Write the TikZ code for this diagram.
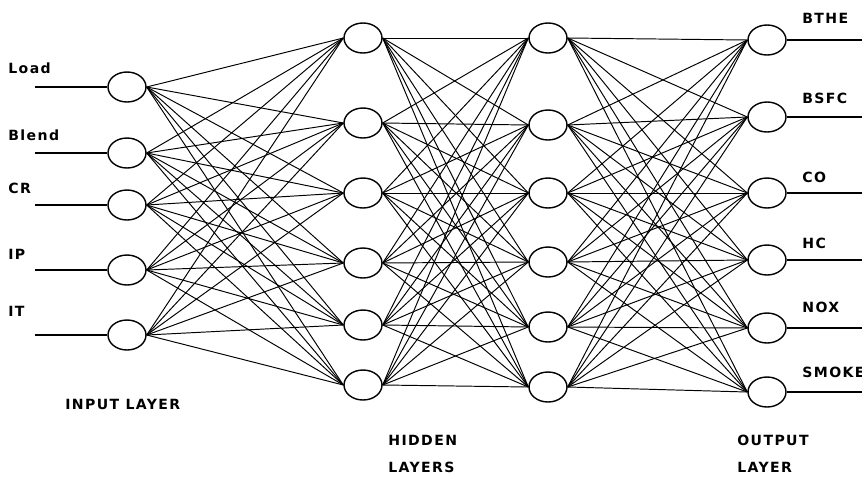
\documentclass[tikz,border=0pt]{standalone}
\usepackage{fontspec}
\setmainfont{DejaVu Sans}[LetterSpace=10]
\usetikzlibrary{shapes.geometric, positioning}

\begin{document}
\begin{tikzpicture}[x=0.02cm, y=-0.02cm,
    neuron/.style={draw, ellipse, line width=.8pt, minimum width=0.76cm, minimum height=0.6cm, inner sep=0pt, fill=white},
    link/.style={line width=.55pt},
    lbl/.style={font=\fontsize{8}{9}\selectfont\bfseries, anchor=west, inner sep=0pt}]
	\useasboundingbox (0,0) rectangle (862,477);
	% layers
	\foreach \i/\y in {1/87,2/153,3/205,4/270,5/335}
		\node[neuron] (in\i) at (127,\y) {};
	\foreach \i/\y in {1/38,2/123,3/193,4/263,5/325,6/385}
		\node[neuron] (ha\i) at (363,\y) {};
	\foreach \i/\y in {1/38,2/125,3/193,4/262,5/327,6/387}
		\node[neuron] (hb\i) at (548,\y) {};
	\foreach \i/\y in {1/40,2/117,3/193,4/260,5/328,6/392}
		\node[neuron] (out\i) at (767,\y) {};
	% connections
	\foreach \i in {1,...,5}
		\foreach \j in {1,...,6}
			\draw[link] (in\i.east) -- (ha\j.west);
	\foreach \i in {1,...,6}
		\foreach \j in {1,...,6}
			\draw[link] (ha\i.east) -- (hb\j.west);
	\foreach \i in {1,...,6}
		\foreach \j in {1,...,6}
			\draw[link] (hb\i.east) -- (out\j.west);
	% input and output lines
	\foreach \i/\y in {1/87,2/153,3/205,4/270,5/335} {
		\coordinate (src\i) at (35,\y);
		\draw[line width=.8pt] (src\i) -- (in\i.west);
	}
	\foreach \i/\y in {1/40,2/117,3/193,4/260,5/328,6/392} {
		\coordinate (dst\i) at (862,\y);
		\draw[line width=.8pt] (out\i.east) -- (dst\i);
	}
	% labels
	\node[lbl] (lload) at (8,68) {Load};
	\node[lbl] (lblend) at (8,135) {Blend};
	\node[lbl] (lcr) at (8,188) {CR};
	\node[lbl] (lip) at (8,254) {IP};
	\node[lbl] (lit) at (8,311) {IT};
	\node[lbl] (lbthe) at (802,18) {BTHE};
	\node[lbl] (lbsfc) at (802,98) {BSFC};
	\node[lbl] (lco) at (802,177) {CO};
	\node[lbl] (lhc) at (802,243) {HC};
	\node[lbl] (lnox) at (802,307) {NOX};
	\node[lbl] (lsmoke) at (802,372) {SMOKE};
	\node[lbl] (linput) at (65,404) {INPUT LAYER};
	\node[lbl] (lhidden) at (388,440) {HIDDEN};
	\node[lbl] (lhiddenb) at (388,467) {LAYERS};
	\node[lbl] (loutput) at (737,440) {OUTPUT};
	\node[lbl] (loutputb) at (737,467) {LAYER};
\end{tikzpicture}
\end{document}
